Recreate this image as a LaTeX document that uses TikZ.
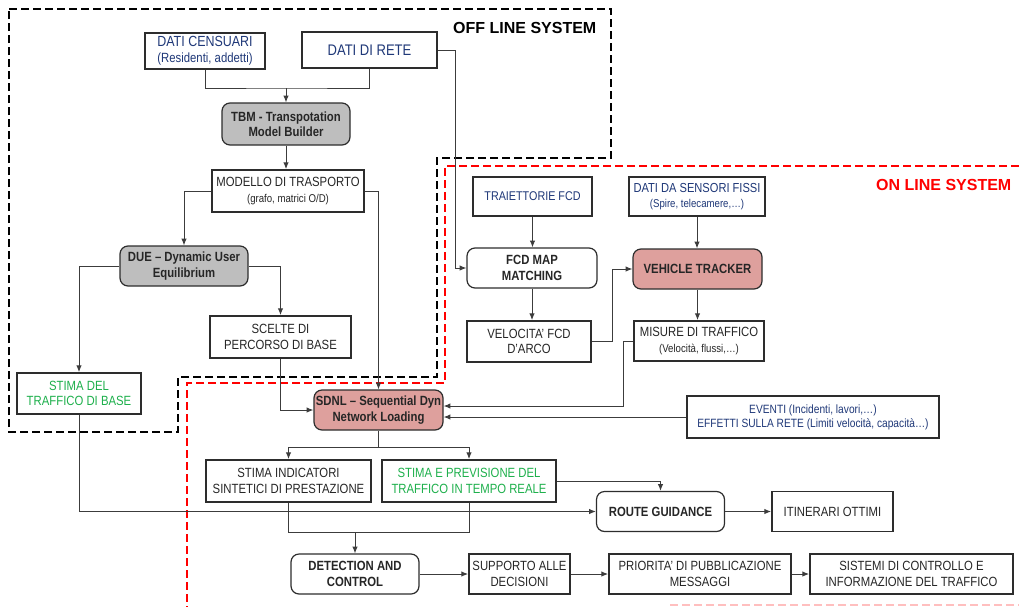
\documentclass[tikz,border=0pt]{standalone}
\usepackage{fontspec}
\setmainfont{Liberation Sans}[FakeStretch=0.85]
\newfontfamily\widefont{Liberation Sans}
\usetikzlibrary{arrows.meta}
\definecolor{navy}{RGB}{31,56,120}
\definecolor{grn}{RGB}{30,176,76}
\definecolor{ln}{RGB}{60,60,60}
\definecolor{bd}{RGB}{45,45,45}
\definecolor{gfill}{RGB}{190,190,190}
\definecolor{pfill}{RGB}{222,160,157}
\tikzset{
  wh/.style 2 args={minimum width=#1*0.75pt, minimum height=#2*0.75pt},
  box/.style={draw=bd, line width=1.3pt, fill=white, align=center, inner sep=1pt, text=black!85,
    font=\fontsize{10}{11.5}\selectfont},
  rbox/.style={box, rounded corners=6pt, line width=0.9pt, font=\bfseries\fontsize{10}{11.5}\selectfont},
  conn/.style={draw=ln, line width=0.75pt},
  arr/.style={conn, -{Latex[length=5pt,width=4pt]}},
  offdash/.style={draw=black, line width=1.9pt, dash pattern=on 6pt off 3pt},
  ondash/.style={draw=red, line width=1.9pt, dash pattern=on 6pt off 3pt},
}
\begin{document}
\begin{tikzpicture}[x=0.75pt,y=-0.75pt]
\useasboundingbox (0,0) rectangle (1019,607);
% system frames
\draw[offdash] (9,9) -- (611,9) -- (611,158) -- (437,158) -- (437,377) -- (178,377) -- (178,432) -- (9,432) -- cycle;
\draw[ondash] (1019,166) -- (445,166) -- (445,383) -- (187,383) -- (187,607);
\draw[ondash, opacity=0.25] (670,605) -- (1019,605);
\node[anchor=east, font=\widefont\bfseries\fontsize{12}{14}\selectfont] (offlbl) at (601,28) {OFF LINE SYSTEM};
\node[anchor=east, text=red, font=\widefont\bfseries\fontsize{12}{14}\selectfont] (onlbl) at (1016,185) {ON LINE SYSTEM};

% off-line nodes
\node[box, wh={120}{36}, text=navy, font=\fontsize{11}{12}\selectfont] (cens) at (205,51) {DATI CENSUARI\\{\fontsize{10}{11}\selectfont(Residenti, addetti)}};
\node[box, wh={135}{36}, text=navy, font=\fontsize{11.5}{13}\selectfont] (rete) at (369.5,50) {DATI DI RETE};
\node[rbox, fill=gfill, wh={128}{42}] (tbm) at (286,124) {TBM - Transpotation\\Model Builder};
\node[box, wh={152}{42}] (modello) at (288,191) {MODELLO DI TRASPORTO\\{\fontsize{8.5}{10}\selectfont(grafo, matrici O/D)}};
\node[rbox, fill=gfill, wh={128}{40}] (due) at (184,266) {DUE -- Dynamic User\\Equilibrium};
\node[box, wh={141}{42}] (scelte) at (280.5,337) {SCELTE DI\\PERCORSO DI BASE};
\node[box, wh={124}{41}, text=grn] (stimabase) at (79,393.5) {STIMA DEL\\TRAFFICO DI BASE};

% on-line nodes
\node[box, wh={119}{39}, text=navy, font=\fontsize{9.5}{11}\selectfont] (traj) at (532.5,196.5) {TRAIETTORIE FCD};
\node[box, wh={136}{39}, text=navy, font=\fontsize{9.8}{11}\selectfont] (sens) at (697,196.5) {DATI DA SENSORI FISSI\\{\fontsize{8.5}{10}\selectfont(Spire, telecamere,…)}};
\node[rbox, wh={130}{40}] (fcd) at (532,268) {FCD MAP\\MATCHING};
\node[rbox, fill=pfill, wh={129}{40}] (vt) at (697.5,269) {VEHICLE TRACKER};
\node[box, wh={124}{41}] (vel) at (529,341.5) {VELOCITA' FCD\\D'ARCO};
\node[box, wh={130}{40}] (mis) at (699,341) {MISURE DI TRAFFICO\\{\fontsize{8.5}{10}\selectfont(Velocità, flussi,…)}};
\node[rbox, fill=pfill, wh={129}{40}] (sdnl) at (378.5,410) {SDNL -- Sequential Dyn\\Network Loading};
\node[box, wh={252}{42}, text=navy, font=\fontsize{9}{10.5}\selectfont] (ev) at (813,417) {EVENTI (Incidenti, lavori,…)\\EFFETTI SULLA RETE (Limiti velocità, capacità…)};
\node[box, wh={165}{42}] (ind) at (288.5,481) {STIMA INDICATORI\\SINTETICI DI PRESTAZIONE};
\node[box, wh={174}{42}, text=grn] (prev) at (469,481) {STIMA E PREVISIONE DEL\\TRAFFICO IN TEMPO REALE};
\node[rbox, wh={128}{40}] (route) at (660.5,511.5) {ROUTE GUIDANCE};
\node[box, wh={121}{40}] (itin) at (832.5,511.5) {ITINERARI OTTIMI};
\node[rbox, wh={128}{40}] (det) at (355,574) {DETECTION AND\\CONTROL};
\node[box, wh={101}{40}] (supp) at (519.5,574) {SUPPORTO ALLE\\DECISIONI};
\node[box, wh={182}{40}] (prio) at (700,574) {PRIORITA' DI PUBBLICAZIONE\\MESSAGGI};
\node[box, wh={203}{40}] (sist) at (911.5,574) {SISTEMI DI CONTROLLO E\\INFORMAZIONE DEL TRAFFICO};

% connectors off-line
\coordinate (j1) at (286,88);
\draw[conn] (cens.south) |- (j1) -| (rete.south);
\draw[arr] (j1) -- (tbm.north);
\draw[arr] (tbm.south) -- (tbm.south |- modello.north);
\draw[arr] (modello.west) -| (due.north);
\draw[arr] (modello.east) -| (sdnl.north);
\draw[arr] (due.west) -| (stimabase.north);
\draw[arr] (due.east) -| (scelte.north);
\draw[arr] (scelte.south) |- (sdnl.west);
\coordinate (r1) at (455,50);
\draw[arr] (rete.east) -- (r1) |- (fcd.west);

% connectors on-line
\draw[arr] (traj.south) -- (traj.south |- fcd.north);
\draw[arr] (fcd.south) -- (fcd.south |- vel.north);
\coordinate (v1) at (612,341.5);
\draw[arr] (vel.east) -- (v1) |- (vt.west);
\draw[arr] (sens.south) -- (sens.south |- vt.north);
\draw[arr] (vt.south) -- (vt.south |- mis.north);
\coordinate (m1) at (623,406);
\draw[arr] (mis.west) -| (m1) -- (m1 -| sdnl.east);
\draw[arr] (ev.west) -- (sdnl.east |- ev.west);
\coordinate (s1) at (378.5,447);
\draw[conn] (sdnl.south) -- (s1);
\draw[arr] (s1) -| (ind.north);
\draw[arr] (s1) -| (prev.north);
\draw[arr] (prev.east) -| (route.north);
\draw[arr] (stimabase.south) |- (route.west);
\draw[arr] (route.east) -- (itin.west);
\coordinate (d1) at (355,532);
\draw[conn] (ind.south) |- (prev.south |- d1) -- (prev.south);
\draw[arr] (d1) -- (det.north);
\draw[arr] (det.east) -- (supp.west);
\draw[arr] (supp.east) -- (prio.west);
\draw[arr] (prio.east) -- (sist.west);
\end{tikzpicture}
\end{document}
